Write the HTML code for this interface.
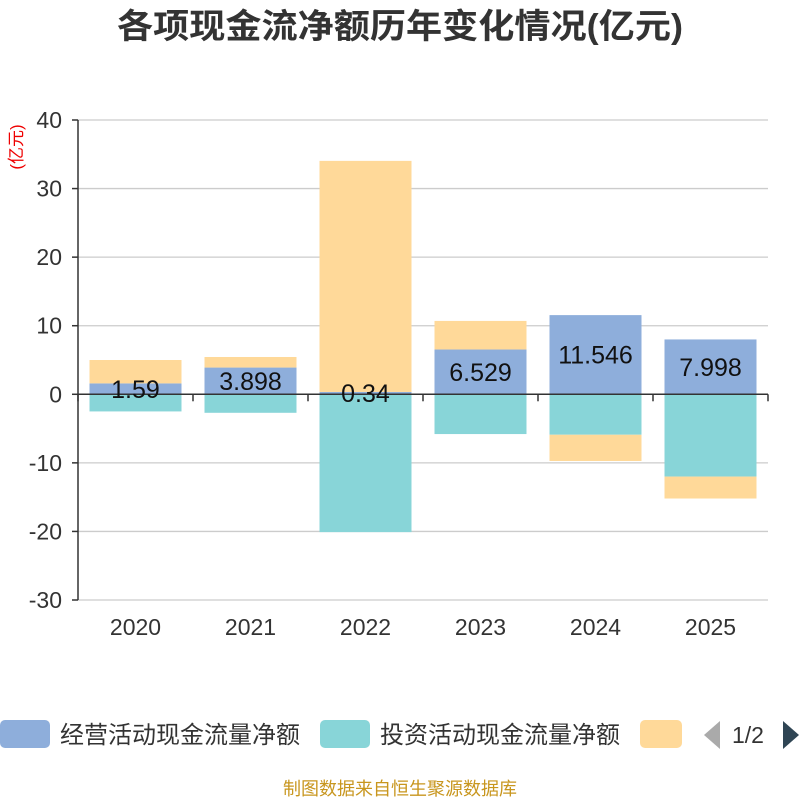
<!DOCTYPE html>
<html><head><meta charset="utf-8"><style>
body{margin:0;background:#fff;font-family:"Liberation Sans","Noto Sans CJK SC",sans-serif}
</style></head><body>
<svg id="c" width="800" height="800" xmlns="http://www.w3.org/2000/svg" font-family="Liberation Sans, Noto Sans CJK SC, sans-serif">
<text x="400" y="38" text-anchor="middle" font-size="34" font-weight="bold" fill="#333" textLength="566" lengthAdjust="spacingAndGlyphs">各项现金流净额历年变化情况(亿元)</text>
<text transform="translate(22,147) rotate(-90)" text-anchor="middle" font-size="17" fill="#e00">(亿元)</text>
<g id="grid"></g><g id="bars"></g><g id="axes"></g><g id="labels"></g>
<g>
<rect x="0" y="720" width="50" height="28" rx="5" fill="#8eaedb"/>
<text x="60" y="743" font-size="24" fill="#333" textLength="240">经营活动现金流量净额</text>
<rect x="320" y="720" width="50" height="28" rx="5" fill="#88d5d8"/>
<text x="380" y="743" font-size="24" fill="#333" textLength="240">投资活动现金流量净额</text>
<rect x="640" y="720" width="42" height="28" rx="5" fill="#ffd999"/>
<polygon points="720,721 720,749 704,735" fill="#aaa"/>
<text x="732" y="743" font-size="23" fill="#333">1/2</text>
<polygon points="783,721 783,749 799,735" fill="#2f4554"/>
</g>
<text x="400" y="795" text-anchor="middle" font-size="18" fill="#c8961e" textLength="234">制图数据来自恒生聚源数据库</text>
</svg>
<script>
const categories=["2020","2021","2022","2023","2024","2025"];
const operating=[1.59,3.898,0.34,6.529,11.546,7.998];
const investing=[-2.5,-2.7,-20.1,-5.8,-5.9,-12.0];
const financing=[3.41,1.54,33.7,4.17,-3.83,-3.2];
const yTicks=[40,30,20,10,0,-10,-20,-30];
const NS="http://www.w3.org/2000/svg";
const x0=78,x1=768,yTop=120,yBot=600,yMax=40,yMin=-30;
const y=v=>yTop+(yMax-v)/(yMax-yMin)*(yBot-yTop);
const bw=(x1-x0)/categories.length;
const xc=i=>x0+bw*(i+0.5);
function mk(tag,attrs,parent){const e=document.createElementNS(NS,tag);for(const k in attrs)e.setAttribute(k,attrs[k]);document.getElementById(parent).appendChild(e);return e;}
yTicks.forEach(t=>{
  const l=mk('line',{x1:x0,x2:x1,y1:y(t),y2:y(t),stroke:'#ccc','stroke-width':1.3},'grid');
  
  
  const tx=mk('text',{x:62,y:y(t)+8,'text-anchor':'end','font-size':23,fill:'#333'},'axes');
  tx.textContent=t;
  
  
  const tk=mk('line',{x1:x0-6,x2:x0,y1:y(t),y2:y(t),stroke:'#333','stroke-width':1.5},'axes');
  
  
});
const ya=mk('line',{x1:x0,x2:x0,y1:yTop,y2:yBot,stroke:'#333','stroke-width':1.5},'axes');


const xa=mk('line',{x1:x0,x2:x1,y1:y(0),y2:y(0),stroke:'#333','stroke-width':1.5},'axes');


for(let i=0;i<=categories.length;i++){
  const t=mk('line',{x1:x0+bw*i,x2:x0+bw*i,y1:y(0),y2:y(0)+7,stroke:'#333','stroke-width':1.5},'axes');
  
  
}
const series=[[operating,'#8eaedb','operating'],[investing,'#88d5d8','investing'],[financing,'#ffd999','financing']];
categories.forEach((c,i)=>{
  let pos=0,neg=0;
  series.forEach(([arr,col,nm])=>{
    const v=arr[i];let a,b;
    if(v>=0){a=pos;b=pos+v;pos=b;}else{a=neg;b=neg+v;neg=b;}
    const r=mk('rect',{x:xc(i)-46,width:92,y:Math.min(y(a),y(b)),height:Math.abs(y(a)-y(b)),fill:col},'bars');
    
    
  });
  const lt=mk('text',{x:xc(i),y:y(operating[i]/2)+9,'text-anchor':'middle','font-size':25,fill:'#111'},'labels');
  lt.textContent=operating[i];
  
  
  const xl=mk('text',{x:xc(i),y:635,'text-anchor':'middle','font-size':23,fill:'#333'},'axes');
  xl.textContent=c;
  
  
});
</script>
</body></html>
